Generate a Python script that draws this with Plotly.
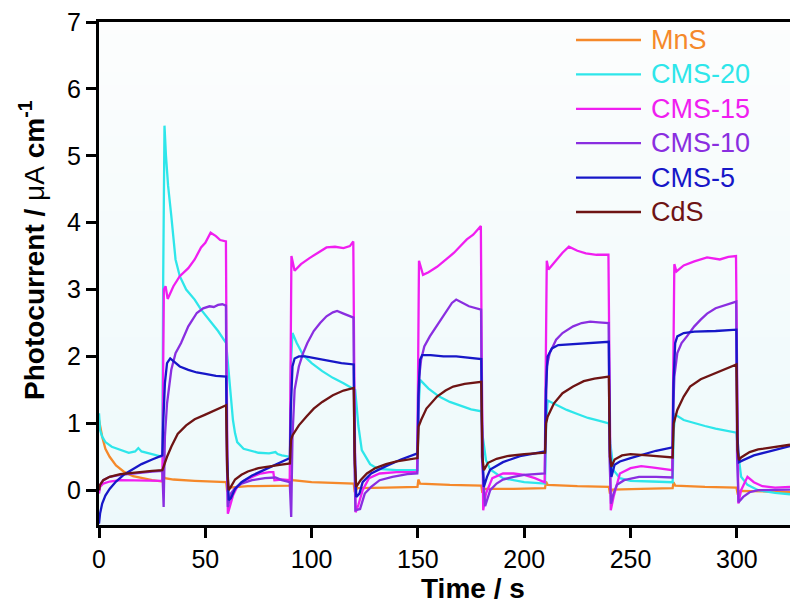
import plotly.graph_objects as go

# ---------------- data ----------------
series_names = ["MnS", "CMS-20", "CMS-15", "CMS-10", "CMS-5", "CdS"]
series_colors = ["#f5892a", "#2ee6ea", "#f01ef0", "#8a2ee0", "#1717c8", "#6e1414"]

mns_t = [0, 0.5, 1.5, 3, 5, 8, 12, 16, 20, 25, 29.8, 30.2, 31, 35, 45, 55, 59.8, 60.3, 61.5, 70, 80, 89.8,
         90.2, 91, 100, 110, 119.8, 120.3, 121.5, 135, 149.8, 150.2, 151, 165, 179.8, 180.3, 181.5, 195, 209.8,
         210.2, 211, 225, 239.8, 240.3, 241.5, 255, 269.8, 270.2, 271, 285, 299.8, 300.3, 301.5, 315, 325]
mns_y = [1.05, 0.95, 0.8, 0.62, 0.5, 0.37, 0.27, 0.21, 0.18, 0.15, 0.13, 0.22, 0.18, 0.16, 0.14, 0.12, 0.12, -0.02,
         0.04, 0.06, 0.07, 0.07, 0.22, 0.15, 0.12, 0.11, 0.1, -0.03, 0.03, 0.04, 0.05, 0.16, 0.1, 0.08, 0.07, -0.04,
         0.02, 0.02, 0.03, 0.13, 0.08, 0.06, 0.05, -0.05, 0.01, 0.02, 0.03, 0.12, 0.07, 0.05, 0.04, -0.04, -0.01,
         -0.02, -0.03]

cms20_t = [0, 0.5, 1.5, 3, 6, 10, 14, 17, 18.5, 20, 24, 29.8, 30.2, 30.8, 31.5, 32.5, 34, 36, 38, 41, 45, 48, 53,
           56, 59.8, 61, 62, 63, 64, 65, 68, 75, 80, 83, 84, 86, 89.8, 90.3, 91, 93, 96, 100, 105, 110, 115, 119.8,
           120.5, 122, 123.6, 127.5, 131, 140, 149.8, 150.3, 151, 155, 160, 165, 170, 175, 179.8, 180.5, 182, 184,
           190, 200, 209.8, 210.3, 211, 215, 220, 225, 230, 235, 239.8, 240.5, 242, 245, 250, 260, 269.8, 270.3, 271,
           275, 280, 285, 290, 295, 299.8, 300.5, 302, 305, 310, 318, 325]
cms20_y = [1.15, 0.9, 0.8, 0.72, 0.65, 0.6, 0.56, 0.58, 0.63, 0.58, 0.55, 0.5, 3.2, 5.45, 5.0, 4.55, 4.1, 3.45,
           3.2, 3.0, 2.85, 2.7, 2.5, 2.38, 2.2, 1.8, 1.4, 1.05, 0.85, 0.72, 0.62, 0.56, 0.55, 0.57, 0.54, 0.52, 0.5,
           1.9, 2.35, 2.2, 2.02, 1.9, 1.78, 1.68, 1.6, 1.52, 1.5, 0.96, 0.6, 0.39, 0.32, 0.3, 0.3, 1.2, 1.65, 1.52,
           1.4, 1.32, 1.26, 1.21, 1.18, 0.8, 0.45, 0.31, 0.18, 0.12, 0.1, 1.0, 1.34, 1.28, 1.2, 1.14, 1.08, 1.04, 1.0,
           0.7, 0.3, 0.18, 0.14, 0.13, 0.12, 0.9, 1.13, 1.05, 1.0, 0.96, 0.92, 0.89, 0.86, 0.6, 0.2, 0.08, 0.0,
           -0.04, -0.06]

cms15_t = [0, 0.5, 2, 5, 10, 20, 29.8, 30.1, 30.5, 31.3, 32.3, 35, 38, 42, 45, 48, 50, 52.5, 55, 57, 59.7, 60.0,
           60.6, 61.5, 63, 65, 68, 72, 76, 80, 82, 82.5, 86, 89.7, 90.0, 90.5, 92, 95, 99, 103, 107, 111, 115, 118,
           119.6, 120.0, 120.7, 122, 124, 127, 132, 140, 149.6, 150.0, 150.5, 152.4, 155, 159, 163, 167, 170, 173,
           176, 179.6, 180.0, 180.7, 182, 185, 190, 195, 200, 205, 209.6, 210.0, 210.6, 211.4, 215, 218, 221, 225,
           229, 234, 239.6, 240.0, 240.7, 242, 245, 250, 255, 260, 268, 269.6, 270.0, 270.6, 271.6, 275, 280, 286,
           292, 296, 299.6, 300.0, 300.7, 302, 305, 308, 312, 318, 325]
cms15_y = [-0.05, 0.05, 0.1, 0.13, 0.15, 0.15, 0.14, 1.5, 3.0, 3.05, 2.86, 3.05, 3.2, 3.32, 3.45, 3.63, 3.7, 3.85,
           3.8, 3.74, 3.72, 2.0, -0.35, -0.25, -0.08, 0.05, 0.14, 0.2, 0.25, 0.27, 0.27, 0.15, 0.16, 0.15, 1.5, 3.5,
           3.28, 3.38, 3.47, 3.55, 3.63, 3.64, 3.62, 3.65, 3.72, 2.0, -0.33, -0.22, 0.0, 0.18, 0.25, 0.27, 0.27, 1.5,
           3.43, 3.22, 3.26, 3.34, 3.45, 3.55, 3.65, 3.75, 3.82, 3.95, 2.0, -0.3, -0.05, 0.18, 0.25, 0.25, 0.23,
           0.18, 0.12, 1.5, 3.43, 3.3, 3.43, 3.55, 3.64, 3.58, 3.54, 3.52, 3.52, 2.0, -0.3, -0.1, 0.25, 0.33, 0.36,
           0.34, 0.31, 0.3, 1.5, 3.38, 3.27, 3.36, 3.42, 3.48, 3.45, 3.49, 3.5, 1.8, -0.2, 0.0, 0.2, 0.12, 0.06,
           0.04, 0.05]

cms10_t = [0, 0.5, 2, 5, 10, 15, 20, 25, 29.8, 30.1, 30.4, 31, 32, 34, 36, 38.6, 42, 46, 49, 52, 54, 56, 58, 59.7,
           60.1, 60.6, 62, 64, 67, 72, 78, 83, 86, 89.7, 90.0, 90.4, 91, 92, 94, 96, 98, 101, 104, 107, 110, 112,
           115, 118, 119.7, 120.1, 120.6, 122.8, 125, 128, 132, 138, 145, 149.7, 150.1, 150.6, 151.5, 153, 155.6,
           158, 160, 163, 166, 168, 171, 174, 179.7, 180.1, 181.6, 184, 187, 190, 195, 200, 209.7, 210.1, 210.6, 212,
           215, 218, 223, 227, 231, 235, 239.7, 240.1, 240.8, 242, 243.6, 247, 254, 262, 269.7, 270.1, 270.6, 272,
           274, 276.5, 280, 283, 286, 290, 293.5, 296, 299.7, 300.1, 300.8, 303, 306, 310, 318, 325]
cms10_y = [0.0, 0.08, 0.15, 0.2, 0.23, 0.25, 0.27, 0.28, 0.29, 0.0, -0.25, 0.8, 1.3, 1.8, 2.05, 2.2, 2.45, 2.65,
           2.72, 2.75, 2.74, 2.77, 2.78, 2.76, 0.5, -0.25, -0.05, 0.03, 0.1, 0.15, 0.18, 0.19, 0.15, 0.12, -0.1,
           -0.4, 0.8, 1.5, 1.85, 2.05, 2.2, 2.38, 2.5, 2.6, 2.66, 2.68, 2.64, 2.6, 2.58, 0.5, -0.3, -0.28, -0.05,
           0.05, 0.15, 0.2, 0.24, 0.25, 1.2, 1.7, 1.95, 2.15, 2.3, 2.42, 2.5, 2.65, 2.8, 2.85, 2.8, 2.75, 2.7, 0.5,
           -0.24, 0.0, 0.1, 0.16, 0.2, 0.23, 0.25, 1.2, 1.85, 2.05, 2.25, 2.35, 2.45, 2.5, 2.52, 2.51, 2.5, 0.5,
           -0.2, -0.05, 0.08, 0.15, 0.2, 0.2, 0.19, 1.2, 1.7, 2.05, 2.2, 2.3, 2.45, 2.55, 2.64, 2.72, 2.76, 2.78,
           2.82, 0.5, -0.18, -0.1, -0.03, 0.0, 0.01, 0.01]

cms5_t = [0, 0.5, 1.5, 3, 5, 8, 12, 16, 20, 25, 29.8, 30.2, 31, 32, 33.5, 35, 38, 42, 46, 50, 55, 59.8, 60.3, 61,
          62, 64, 67, 72, 78, 84, 89.8, 90.2, 91, 92, 94, 97, 102, 108, 114, 119.8, 120.3, 121, 122.5, 124, 128,
          135, 142, 149.8, 150.2, 151, 152, 156, 162, 168, 174, 179.8, 180.3, 181, 182.5, 184, 190, 198, 209.8,
          210.2, 211, 213, 216, 220, 226, 232, 239.8, 240.3, 241, 242.5, 245, 250, 256, 262, 269.8, 270.2, 271, 272,
          275, 280, 290, 299.8, 300.3, 301, 303, 308, 314, 320, 325]
cms5_y = [-0.5, -0.35, -0.2, -0.08, 0.02, 0.13, 0.24, 0.32, 0.39, 0.46, 0.52, 1.0, 1.6, 1.9, 1.97, 1.93, 1.85,
          1.8, 1.76, 1.74, 1.71, 1.7, 0.5, -0.15, -0.12, 0.02, 0.12, 0.22, 0.31, 0.4, 0.48, 1.2, 1.85, 1.97, 2.0,
          2.0, 1.97, 1.93, 1.9, 1.88, 0.6, -0.1, -0.05, 0.12, 0.25, 0.36, 0.46, 0.55, 1.4, 1.95, 2.02, 2.02, 2.0,
          2.0, 1.98, 1.96, 0.6, 0.05, 0.2, 0.31, 0.42, 0.51, 0.58, 1.5, 2.0, 2.12, 2.17, 2.18, 2.19, 2.2, 2.22, 0.6,
          0.2, 0.38, 0.43, 0.48, 0.54, 0.59, 0.64, 1.6, 2.2, 2.3, 2.35, 2.37, 2.38, 2.4, 0.8, 0.42, 0.45, 0.52,
          0.57, 0.62, 0.66]

cds_t = [0, 0.5, 2, 5, 10, 15, 20, 25, 29.8, 30.3, 31, 32, 34, 37, 41, 45, 50, 55, 59.8, 60.3, 61, 62, 64, 67, 70,
         75, 80, 85, 89.8, 90.3, 91, 94, 97.5, 101, 105, 110, 115, 119.8, 120.3, 121, 123, 126, 130, 135, 140, 149.8,
         150.3, 151.5, 154, 159, 163, 166.6, 172, 179.8, 180.3, 181, 183, 187, 192, 200, 209.8, 210.3, 211, 214, 218,
         223, 228, 233, 239.8, 240.3, 241, 242.5, 246, 250, 258, 265, 269.8, 270.3, 272, 275, 278, 283, 289, 294,
         299.8, 300.3, 301, 302, 306, 310, 318, 325]
cds_y = [0.0, 0.08, 0.15, 0.2, 0.24, 0.26, 0.28, 0.29, 0.3, 0.35, 0.42, 0.5, 0.65, 0.84, 0.97, 1.06, 1.13, 1.2,
         1.27, 0.3, 0.0, 0.05, 0.16, 0.23, 0.28, 0.33, 0.36, 0.38, 0.4, 0.75, 0.82, 0.97, 1.1, 1.22, 1.32, 1.42,
         1.49, 1.53, 0.4, 0.05, 0.15, 0.25, 0.33, 0.39, 0.43, 0.48, 0.95, 1.05, 1.22, 1.4, 1.49, 1.55, 1.59, 1.62,
         0.5, 0.3, 0.41, 0.47, 0.51, 0.54, 0.56, 1.0, 1.1, 1.3, 1.45, 1.55, 1.63, 1.67, 1.7, 0.5, 0.35, 0.46, 0.52,
         0.54, 0.52, 0.5, 0.49, 1.0, 1.2, 1.4, 1.55, 1.66, 1.74, 1.8, 1.88, 0.6, 0.45, 0.49, 0.57, 0.61, 0.65,
         0.68]

x_ticks = [0, 50, 100, 150, 200, 250, 300]
y_ticks = [0, 1, 2, 3, 4, 5, 6, 7]

all_t = [mns_t, cms20_t, cms15_t, cms10_t, cms5_t, cds_t]
all_y = [mns_y, cms20_y, cms15_y, cms10_y, cms5_y, cds_y]

# ---------------- figure ----------------
W, H = 790, 606
ML, MR, MT, MB = 99, 0, 22, 81
PW, PH = W - ML - MR, H - MT - MB
FONT = "Liberation Sans, Arial, sans-serif"


def px_x(px):
    return (px - ML) / PW


def px_y(py):
    return 1 - (py - MT) / PH


fig = go.Figure()
for name, color, t, y in zip(series_names, series_colors, all_t, all_y):
    fig.add_trace(go.Scatter(x=t, y=y, mode="lines", name=name,
                             line=dict(color=color, width=2.3), showlegend=False))

shapes = []
# soft vertical gradient behind the traces
n_bands = 40
top_rgb, bot_rgb = (252, 253, 253), (237, 249, 251)
for i in range(n_bands):
    f = (i + 0.5) / n_bands
    c = tuple(round(bot_rgb[k] + (top_rgb[k] - bot_rgb[k]) * f) for k in range(3))
    shapes.append(dict(type="rect", xref="paper", yref="paper", layer="below",
                       x0=0, x1=1, y0=i / n_bands, y1=(i + 1) / n_bands + 0.002,
                       line=dict(width=0), fillcolor="rgb(%d,%d,%d)" % c))

annotations = []
# legend: coloured line sample plus coloured label
for i, (name, color) in enumerate(zip(series_names, series_colors)):
    yy = px_y(40 + 34.4 * i)
    shapes.append(dict(type="line", xref="paper", yref="paper",
                       x0=px_x(576), x1=px_x(641), y0=yy, y1=yy,
                       line=dict(color=color, width=2.3)))
    annotations.append(dict(xref="paper", yref="paper", x=px_x(649), y=yy,
                            text=name, showarrow=False, xanchor="left", yanchor="middle",
                            font=dict(family=FONT, size=27, color=color)))

annotations.append(dict(xref="paper", yref="paper", x=px_x(473), y=px_y(588),
                        text="<b>Time / s</b>", showarrow=False,
                        xanchor="center", yanchor="middle",
                        font=dict(family=FONT, size=28, color="black")))
annotations.append(dict(xref="paper", yref="paper", x=px_x(32), y=px_y(250),
                        text="<b>Photocurrent / </b>μA<b> cm<sup>-1</sup></b>",
                        showarrow=False, textangle=-90,
                        xanchor="center", yanchor="middle",
                        font=dict(family=FONT, size=28, color="black")))

fig.update_layout(
    width=W, height=H,
    margin=dict(l=ML, r=MR, t=MT, b=MB, pad=0),
    paper_bgcolor="white", plot_bgcolor="rgba(0,0,0,0)",
    showlegend=False,
    shapes=shapes, annotations=annotations,
    font=dict(family=FONT, color="black"),
)
fig.update_xaxes(range=[0, 325], tickvals=x_ticks, showgrid=False, zeroline=False,
                 showline=True, linecolor="black", linewidth=3, mirror=True,
                 ticks="outside", ticklen=10, tickwidth=3, tickcolor="black",
                 tickfont=dict(family=FONT, size=25, color="black"), automargin=False)
fig.update_yaxes(range=[-0.52, 7], tickvals=y_ticks, showgrid=False, zeroline=False,
                 showline=True, linecolor="black", linewidth=3, mirror=False,
                 ticks="outside", ticklen=10, tickwidth=3, tickcolor="black",
                 tickfont=dict(family=FONT, size=25, color="black"), automargin=False)

fig.write_html("out.html")
